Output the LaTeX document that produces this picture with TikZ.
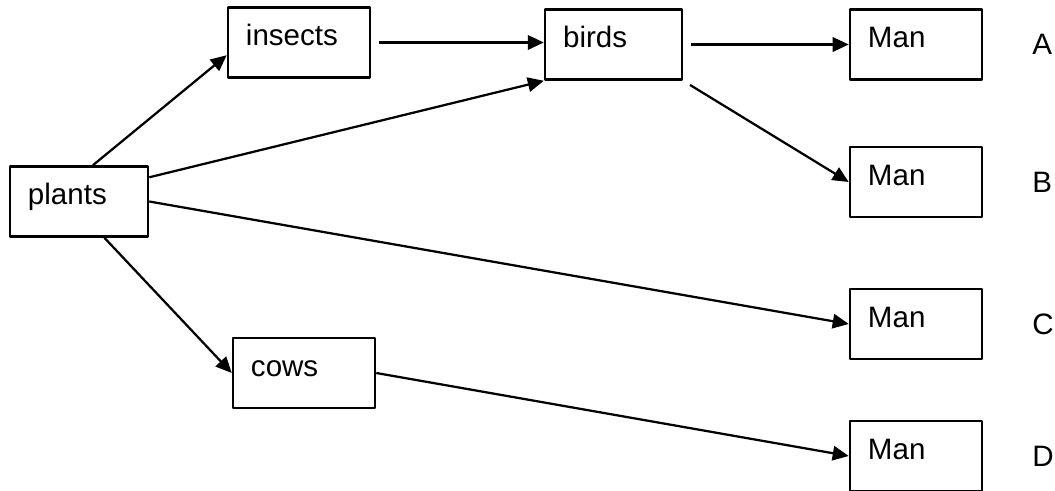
\documentclass[tikz,border=0pt]{standalone}
\usepackage{fontspec}
\setmainfont{Liberation Sans}
\usetikzlibrary{arrows.meta,positioning}

\tikzset{
	box/.style={draw, line width=1.8pt, inner xsep=0.45cm, text width=#1, align=left,
		minimum height=1.75cm, text height=0.75em, text depth=0.32em},
	box/.default=2.6cm,
	tag/.style={inner sep=0pt},
	gap/.style={shorten <=0.2cm}
}

\begin{document}
\begin{tikzpicture}[x=0.025cm, y=-0.025cm, font=\fontsize{21}{25}\selectfont, line join=round, line width=1.6pt, >={Triangle[length=0.4cm,width=0.36cm]}]
				\useasboundingbox (0,0) rectangle (1055,491);
				\node[box=2.55cm] (plants) at (79,201.5) {plants};
				\node[box=2.65cm] (insects) at (299,42.5) {insects};
				\node[box=2.52cm] (birds) at (613.5,44.5) {birds};
				\node[box=2.65cm] (cows) at (304,373) {cows};
				\foreach \t/\y in {A/44.5,B/182,C/324,D/456}{
					\node[box=2.4cm] (man\t) at (916,\y) {Man};
					\node[tag, right=1.2cm of man\t] (tag\t) {\t};}
				\draw[->] (plants.69) -- (insects.190);
				\draw[->, gap] (insects.east) -- (insects.east -| birds.west);
				\draw[->] (plants.19) -- (birds.south west);
				\draw[->, gap] (birds.east) -- (manA.west);
				\draw[->, gap] (birds.south east) -- (manB.west);
				\draw[->] (plants.east) -- (manC.west);
				\draw[->] (plants.-55) -- (cows.west);
				\draw[->] (cows.east) -- (manD.west);
\end{tikzpicture}
\end{document}
